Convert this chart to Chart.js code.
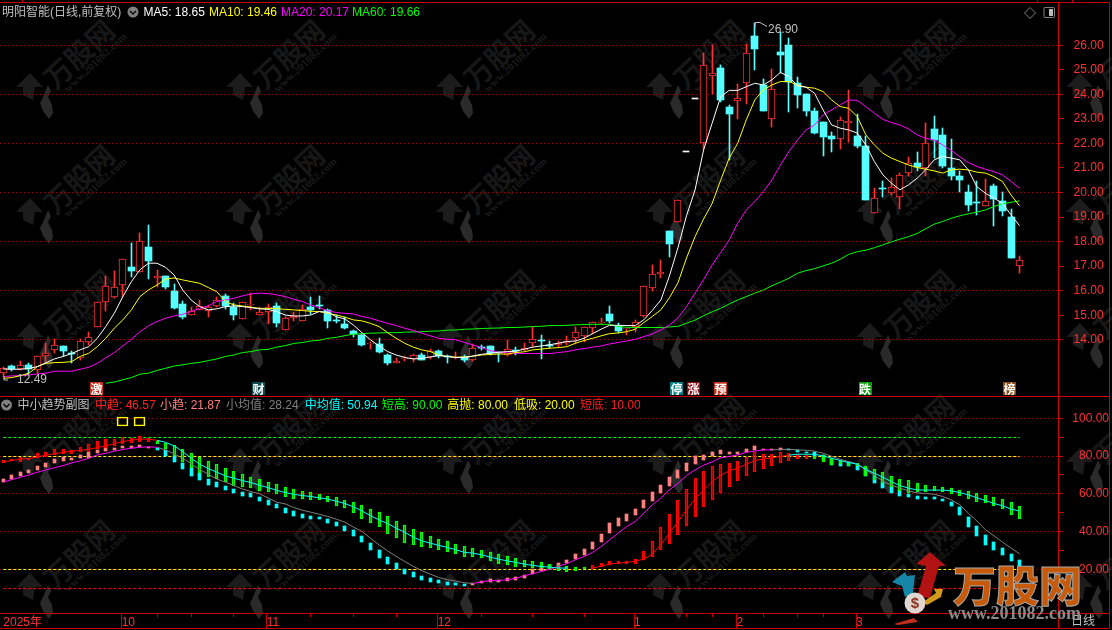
<!DOCTYPE html>
<html lang="zh"><head><meta charset="utf-8"><title>明阳智能</title>
<script src="https://cdn.jsdelivr.net/npm/chart.js@4/dist/chart.umd.min.js"></script>
<style>
html,body{margin:0;padding:0;background:#000;width:1112px;height:630px;overflow:hidden}
#stage{position:relative;width:1112px;height:630px;background:#000;font-family:"Liberation Sans","Noto Sans CJK SC",sans-serif}
canvas{position:absolute;left:0;z-index:2}
.t{position:absolute;white-space:pre;font-size:12px;line-height:14px;z-index:3}
.wm{position:absolute;white-space:pre;z-index:1;font-weight:700;transform:translate(-50%,-50%) rotate(-43deg)}
.ln{position:absolute;background:#c80000;z-index:3}
.bd{position:absolute;width:13px;height:13px;top:382px;font:700 12px/13px "Noto Sans CJK SC",sans-serif;color:#fff;text-align:center;z-index:3}
svg{position:absolute;left:0;top:0;z-index:3}
</style></head><body><div id="stage">
<canvas id="main" width="1112" height="397" style="top:0;width:1112px;height:397px"></canvas>
<canvas id="sub" width="1112" height="233" style="top:397px;width:1112px;height:233px"></canvas>
</div>
<script>
// ---------- price candles ----------
const opens=[12.64,12.92,12.80,12.96,12.75,13.32,13.57,13.75,13.45,13.25,13.93,14.54,15.53,15.73,16.22,16.97,16.78,17.78,16.53,16.60,15.99,15.46,15.03,15.20,15.18,15.39,15.77,15.33,14.86,15.43,15.03,15.12,15.37,14.39,14.90,14.78,15.33,15.39,15.20,14.81,14.65,14.35,14.20,13.82,13.83,13.37,13.05,13.22,13.22,13.37,13.28,13.53,13.34,13.25,13.28,13.19,13.70,13.74,13.49,13.36,13.59,13.59,13.85,14.00,13.78,13.78,13.87,14.09,14.16,14.46,14.69,15.05,14.58,14.43,14.52,14.95,16.10,16.67,18.44,18.78,21.64,23.80,22.01,24.76,25.06,23.49,23.72,24.45,26.38,24.38,22.98,25.73,26.01,24.45,24.02,23.33,22.89,22.31,22.16,22.85,22.31,21.90,19.18,20.19,20.00,19.81,20.79,21.19,20.99,22.59,22.35,20.99,20.68,20.02,19.62,19.43,20.27,19.65,19.01,17.00];
const highs=[12.91,12.98,13.14,13.04,13.34,13.86,14.02,13.75,13.55,14.02,14.31,15.53,16.60,16.81,17.28,17.96,18.35,18.68,16.85,16.60,16.28,15.60,15.33,15.62,15.42,15.73,15.86,15.49,15.53,15.90,15.35,15.45,15.49,14.94,15.12,15.42,15.73,15.79,15.26,15.00,14.92,14.39,14.24,13.93,14.06,13.42,13.25,13.32,13.41,13.48,13.62,13.59,13.37,13.49,13.37,13.82,13.79,13.75,13.49,14.00,13.71,13.86,14.51,14.20,13.95,13.95,14.16,14.51,14.54,14.74,14.89,15.38,14.67,14.47,14.81,16.18,17.05,17.25,18.44,19.69,21.64,23.80,25.70,26.01,25.20,23.57,24.42,26.05,26.90,24.63,25.02,26.54,26.28,24.70,24.02,23.46,22.89,22.47,23.07,24.18,23.20,22.31,20.17,20.47,20.58,20.79,21.44,21.66,22.85,23.12,22.62,22.17,20.89,20.30,20.47,20.55,20.34,20.02,19.32,17.42];
const lows=[12.49,12.73,12.77,12.61,12.64,13.11,13.45,13.32,13.04,13.18,13.79,14.54,15.19,15.69,15.73,16.57,16.78,16.47,16.17,16.06,15.27,14.86,15.03,15.20,14.94,15.35,15.24,14.82,14.86,15.22,15.03,14.66,14.52,14.39,14.77,14.78,15.05,15.24,14.46,14.67,14.43,14.13,13.75,13.62,13.47,12.98,13.05,13.15,13.11,13.18,13.21,13.25,13.07,13.21,13.11,13.15,13.59,13.40,13.11,13.34,13.37,13.53,13.72,13.22,13.67,13.70,13.80,13.83,13.89,14.24,14.63,14.69,14.27,14.20,14.32,14.92,15.99,16.53,17.39,18.78,21.64,23.80,21.76,24.02,23.70,21.33,23.00,23.61,24.99,23.30,22.65,24.86,23.26,23.45,23.12,22.39,21.49,21.67,21.78,22.07,21.80,19.70,19.18,19.83,19.90,19.33,20.68,20.88,20.68,21.42,20.99,20.51,20.04,19.25,19.09,19.43,18.64,19.05,17.35,16.73];
const closes=[12.84,12.81,12.96,12.80,13.32,13.45,13.78,13.55,13.41,13.94,14.10,15.53,16.18,16.14,17.28,16.81,18.01,17.21,16.59,16.17,15.30,14.94,15.19,15.38,15.35,15.61,15.37,15.01,15.52,15.46,15.12,15.34,14.70,14.88,14.97,15.24,15.23,15.38,14.76,14.78,14.46,14.24,13.79,13.85,13.51,13.06,13.13,13.25,13.37,13.19,13.55,13.32,13.29,13.30,13.18,13.68,13.67,13.45,13.45,13.62,13.56,13.66,14.02,13.97,13.75,13.85,13.94,14.31,14.51,14.72,14.72,14.77,14.36,14.47,14.72,16.18,16.67,16.75,17.91,19.69,21.64,23.80,25.18,24.86,23.77,23.20,23.84,25.67,25.85,23.30,24.21,25.62,24.52,23.99,23.33,22.41,22.26,22.20,22.94,22.92,21.91,19.70,19.77,20.13,20.21,20.70,21.19,21.02,22.00,22.12,21.09,20.68,20.51,19.50,19.56,19.67,19.74,19.26,17.35,17.24];
// ---------- moving averages ----------
const ma5=[12.81,12.80,12.80,12.83,12.91,13.07,13.22,13.32,13.44,13.59,13.72,14.06,14.54,15.08,15.76,16.37,16.85,17.12,17.12,16.95,16.64,16.03,15.62,15.35,15.22,15.26,15.35,15.38,15.35,15.31,15.26,15.24,15.15,15.01,14.97,14.97,15.01,15.15,15.12,14.94,14.85,14.60,14.29,14.00,13.75,13.52,13.38,13.28,13.22,13.24,13.30,13.36,13.32,13.28,13.28,13.34,13.41,13.45,13.49,13.52,13.53,13.62,13.70,13.75,13.80,13.86,13.93,13.95,14.06,14.25,14.43,14.59,14.59,14.58,14.58,14.81,15.20,15.62,16.60,17.75,19.05,20.10,21.73,22.82,23.90,24.16,24.16,24.31,24.45,24.38,24.59,24.89,24.72,24.34,24.29,24.04,23.36,22.75,22.62,22.55,22.42,21.94,21.26,20.72,20.38,20.11,20.31,20.58,20.92,21.33,21.47,21.40,21.33,20.92,20.24,19.97,19.77,19.56,19.09,18.65];
const ma10=[12.43,12.46,12.54,12.64,12.91,13.04,13.07,13.08,13.11,13.32,13.45,13.72,14.06,14.47,14.81,15.22,15.76,16.03,16.23,16.47,16.52,16.44,16.37,16.30,16.13,15.96,15.56,15.42,15.38,15.33,15.28,15.28,15.27,15.24,15.22,15.19,15.16,15.15,15.08,15.01,14.92,14.81,14.77,14.67,14.54,14.29,14.06,13.86,13.70,13.59,13.52,13.38,13.32,13.29,13.30,13.33,13.38,13.40,13.42,13.42,13.48,13.51,13.59,13.62,13.66,13.68,13.72,13.86,13.97,14.06,14.16,14.25,14.28,14.33,14.43,14.70,14.95,15.22,15.71,16.32,17.33,18.20,18.92,19.55,20.50,21.40,22.01,22.96,23.77,24.18,24.38,24.52,24.52,24.38,24.29,24.25,24.11,23.77,23.50,23.43,23.09,22.35,21.94,21.60,21.40,21.26,21.12,21.02,20.95,20.88,20.79,20.92,20.95,20.92,20.83,20.79,20.65,20.45,19.90,19.46];
const ma20=[12.50,12.53,12.54,12.57,12.61,12.64,12.72,12.72,12.72,12.80,12.88,13.04,13.27,13.48,13.75,14.02,14.33,14.57,14.74,14.88,14.97,15.04,15.15,15.28,15.38,15.56,15.62,15.69,15.79,15.87,15.90,15.88,15.83,15.76,15.65,15.56,15.42,15.31,15.18,15.11,15.08,15.05,14.95,14.88,14.77,14.67,14.58,14.47,14.38,14.27,14.16,14.06,14.02,14.00,13.89,13.79,13.68,13.56,13.49,13.47,13.45,13.44,13.44,13.44,13.44,13.48,13.52,13.59,13.64,13.70,13.75,13.83,13.89,13.95,14.02,14.13,14.24,14.40,14.60,14.90,15.35,15.90,16.45,17.05,17.55,18.07,18.75,19.29,19.63,20.04,20.51,21.12,21.67,22.14,22.55,22.75,23.16,23.37,23.57,23.77,23.75,23.50,23.23,22.98,22.85,22.75,22.59,22.35,22.21,22.14,21.94,21.71,21.46,21.22,21.06,20.95,20.85,20.72,20.45,20.17];
const ma60=[null,null,null,null,null,null,null,null,null,null,null,null,12.23,12.28,12.37,12.46,12.60,12.64,12.75,12.84,12.93,12.98,13.04,13.08,13.15,13.22,13.32,13.38,13.48,13.52,13.59,13.61,13.70,13.76,13.85,13.89,13.95,13.98,14.06,14.10,14.17,14.23,14.25,14.27,14.28,14.29,14.29,14.31,14.32,14.33,14.35,14.36,14.39,14.40,14.43,14.44,14.46,14.47,14.48,14.50,14.50,14.52,14.54,14.55,14.58,14.58,14.59,14.61,14.62,14.63,14.63,14.63,14.54,14.51,14.50,14.50,14.50,14.50,14.52,14.55,14.67,14.80,14.98,15.14,15.28,15.46,15.62,15.76,15.90,16.03,16.20,16.35,16.51,16.71,16.82,16.90,17.01,17.12,17.28,17.48,17.59,17.65,17.75,17.87,17.99,18.10,18.20,18.33,18.52,18.71,18.82,18.95,19.05,19.13,19.20,19.29,19.43,19.54,19.60,19.66];
// ---------- lower panel ----------
const midHi=[77.8,78.3,79.6,78.9,81.5,82.0,83.6,83.8,83.1,84.7,86.3,88.0,89.3,88.9,90.3,89.6,90.5,89.5,88.2,86.8,85.9,83.6,81.5,79.4,77.5,75.7,73.6,72.0,70.4,68.8,67.8,66.2,65.1,63.5,62.5,61.4,60.9,59.8,58.8,58.2,56.6,55.6,54.0,51.9,50.3,48.4,45.5,43.4,41.3,39.7,37.6,36.0,35.0,33.4,32.3,31.3,30.2,29.1,28.1,27.0,26.0,24.9,24.4,23.8,22.8,22.1,21.7,21.4,21.4,22.3,23.3,24.4,24.4,24.4,25.4,29.7,35.0,42.4,49.4,56.8,62.5,68.3,72.0,74.6,75.7,76.4,77.3,79.4,82.2,81.2,81.2,82.0,81.9,81.2,80.8,80.1,80.6,78.9,78.0,77.1,76.2,74.8,73.0,71.6,69.5,67.9,67.1,65.8,64.8,64.2,63.5,63.2,62.0,61.4,60.4,59.3,58.2,57.2,55.8,53.5];
const midLo=[76.6,77.3,77.1,78.0,78.9,79.6,80.6,81.0,81.2,82.0,82.0,83.6,84.5,85.6,86.6,87.0,87.7,87.5,86.5,83.8,79.9,77.1,73.6,70.8,69.0,68.1,66.2,64.4,63.7,63.3,61.6,61.2,59.8,58.6,57.4,57.4,57.0,56.5,55.6,53.8,52.4,50.1,46.9,44.8,42.2,38.9,36.4,34.2,33.0,31.8,31.1,30.0,29.0,27.9,26.8,26.8,25.8,24.2,23.1,22.4,21.4,21.0,20.8,20.7,19.8,19.2,18.7,19.2,20.3,20.3,21.4,22.3,22.6,23.1,23.1,24.9,26.8,30.0,33.7,38.1,43.1,47.8,52.8,57.0,60.7,63.7,66.7,69.3,71.8,73.2,75.0,76.6,77.6,78.3,78.7,78.3,77.1,75.5,75.7,74.5,74.8,69.3,67.4,65.8,63.5,61.6,60.5,60.9,61.1,61.4,61.2,60.0,59.1,57.3,55.9,54.9,53.8,52.2,48.9,46.57];
const smallHi=[67.9,70.0,71.6,72.7,74.8,76.4,78.3,79.6,79.0,80.6,82.0,83.5,84.2,84.5,85.6,85.6,85.9,85.0,84.2,83.0,79.8,76.6,73.7,70.8,67.9,66.2,64.2,62.6,61.1,60.2,58.4,56.6,54.7,52.6,50.8,49.4,48.4,47.8,46.8,45.2,43.0,40.9,37.8,34.1,30.4,26.7,23.5,20.1,18.7,16.6,15.6,14.5,13.4,12.9,12.4,12.9,14.0,15.0,14.5,15.6,16.1,17.1,20.3,21.9,22.4,23.3,25.1,28.1,30.7,34.4,38.8,44.6,47.3,49.4,52.1,56.8,61.1,64.8,69.0,72.7,76.6,79.8,80.6,82.2,83.3,82.2,82.2,83.8,85.4,83.8,83.8,84.2,83.8,83.0,82.4,82.4,80.5,78.3,77.1,76.9,75.7,73.6,69.5,66.5,63.9,62.1,60.0,58.9,58.2,58.4,57.5,55.9,52.8,47.8,43.1,38.3,34.6,31.4,28.2,25.1];
const smallLo=[66.2,67.9,69.3,70.9,72.7,74.3,76.4,77.5,78.0,79.0,79.2,81.7,82.8,83.1,84.5,84.5,84.9,84.5,83.0,79.9,77.0,73.2,69.5,67.4,64.8,63.7,62.1,60.5,58.9,58.4,56.3,54.2,52.6,50.1,48.5,47.3,46.8,46.8,44.6,43.0,40.4,37.9,34.6,30.0,26.1,23.0,20.3,17.8,16.1,14.5,13.4,12.9,11.9,11.9,11.3,11.9,12.9,13.4,13.4,14.0,14.5,15.6,17.7,19.2,20.3,21.2,23.3,25.6,27.7,30.7,34.6,39.4,43.1,45.7,48.9,52.6,56.3,60.5,64.2,68.5,72.2,75.9,78.0,79.8,81.2,81.2,81.2,82.2,83.3,83.0,83.3,83.3,83.0,82.0,81.5,79.8,78.0,75.5,75.0,74.5,72.7,69.2,65.8,63.2,60.5,59.1,58.4,57.3,57.3,57.3,56.3,53.6,48.9,42.7,37.8,33.0,30.4,27.4,24.6,21.87];
const midAvg=[77.1,77.6,78.5,78.7,79.6,80.5,81.3,82.0,82.6,83.1,83.6,84.5,85.4,86.6,87.7,88.4,89.1,88.9,88.4,87.3,85.4,82.4,78.9,75.7,73.4,71.5,69.5,68.3,67.0,66.0,64.6,63.3,61.9,60.7,59.8,59.1,58.6,57.9,57.2,56.1,54.9,53.1,51.0,48.4,46.2,44.3,41.8,39.7,37.1,35.1,33.9,32.7,31.6,30.4,29.0,28.6,27.7,26.5,25.4,24.5,23.7,22.8,22.1,21.5,21.2,20.7,20.7,null,null,20.7,21.7,22.8,23.3,23.7,24.4,25.4,28.2,33.0,39.2,45.2,51.5,57.3,62.1,66.5,69.9,72.2,73.6,75.7,77.6,78.5,79.1,79.8,80.5,81.0,81.0,81.0,80.1,78.9,77.6,76.6,75.7,73.0,70.9,68.8,66.5,64.4,63.0,62.1,62.0,62.0,62.0,61.6,60.7,59.5,57.9,56.5,54.9,53.7,51.9,50.94];
const smallAvg=[66.2,67.6,68.8,70.0,71.5,72.7,73.9,75.0,76.4,77.5,78.9,80.6,81.5,82.6,83.5,84.2,84.7,84.9,84.7,83.3,81.2,78.9,76.0,72.9,70.4,67.9,66.2,64.4,62.6,61.2,60.0,57.9,55.6,54.7,52.8,51.4,50.3,49.2,48.0,46.6,45.0,42.4,40.1,36.5,33.0,29.8,26.9,24.2,21.6,19.3,17.5,15.7,14.5,13.8,12.9,12.5,13.4,14.0,14.1,14.5,15.2,16.6,17.7,18.9,20.1,21.6,23.0,25.1,26.8,29.0,32.1,35.7,39.2,42.7,45.4,49.8,54.2,57.7,62.1,65.6,69.7,72.7,75.2,76.9,79.1,79.8,80.6,82.0,82.7,83.3,83.3,83.5,83.6,83.3,83.1,82.6,81.5,79.9,78.3,77.1,75.9,72.7,69.9,66.5,64.8,63.0,61.6,60.5,60.2,59.8,58.6,56.8,54.2,49.8,45.7,41.0,37.8,34.4,31.3,28.24];
const midUpRanges=[[0,17],[69,94]];
const midLineUpRanges=[[0,17],[69,91]];
const smallUpRanges=[[0,17],[55,91]];
const smallLineUpRanges=[[0,17],[55,89]];
const signalBoxes=[[14,96,100.7],[16,96,100.7]];
const levelShortHigh=90,levelHighSell=80,levelLowBuy=20,levelShortLow=10;
// ---------- axes ----------
const priceTicks=[26,25,24,23,22,21,20,19,18,17,16,15,14];
const panelTicks=[100,90,80,70,60,50,40,30,20];
const monthTicks=[0,14,31,51,74,86,100];
const monthLabels=["2025年","10","11","12","1","2","3"];
const minorTicks=[18,22,27,36,41,46,56,62,68,80,83,89,93,96];

const RED='#ff3232',CY='#55ffff',AX='#c80000',DOT='#a80000';
const N=opens.length;
const xMin=-0.386,xMax=123.62;
const font={family:'"Liberation Sans","Noto Sans CJK SC",sans-serif',size:12};
const inR=(r,i)=>r.some(a=>i>=a[0]&&i<=a[1]);
const idx=[...Array(N).keys()];
Chart.defaults.animation=false;

// keep bars and level lines on whole pixels, as the original terminal draws them
const snap={id:'snap',afterDatasetsUpdate(chart){
  chart.data.datasets.forEach((d,k)=>{
    const m=chart.getDatasetMeta(k);
    if(m.type==='line'&&m.data.length===2){m.data.forEach(p=>{p.y=Math.floor(p.y)+0.5;});return;}
    if(m.type!=='bar')return;
    m.data.forEach(el=>{
      const w=el.width;
      el.x=Math.round(el.x-w/2)+w/2;
      let a=Math.round(el.y),b=Math.round(el.base);
      if(a===b){b=a+1;}
      el.y=a;el.base=b;
    });
  });
}};
const noPad=a=>{a.paddingTop=0;a.paddingBottom=0;a.paddingLeft=0;a.paddingRight=0;};

function barSet(label,pts,thick,order,fill,edge,bw){
  return {type:'bar',label,data:pts,barThickness:thick,grouped:false,order,
    backgroundColor:fill,borderColor:edge,borderWidth:bw,borderSkipped:false,minBarLength:1,parsing:{xAxisKey:'x',yAxisKey:'y'}};
}
function lineSet(label,values,color,order,extra){
  return Object.assign({type:'line',label,data:values.map((v,i)=>({x:i,y:v})),borderColor:color,borderWidth:1,pointRadius:0,tension:0,fill:false,order,spanGaps:false},extra||{});
}
const colorOf=i=>closes[i]>opens[i]?'red':(closes[i]<opens[i]?'cyan':'white');
const wickOf=c=>idx.filter(i=>colorOf(i)===c).map(i=>({x:i,y:[lows[i],highs[i]]}));
const bodyOf=c=>idx.filter(i=>colorOf(i)===c).map(i=>({x:i,y:[Math.min(opens[i],closes[i]),Math.max(opens[i],closes[i])]}));

new Chart(document.getElementById('main'),{
  plugins:[snap],
  data:{datasets:[
    barSet('阳线影',wickOf('red'),1,5,RED,RED,0),
    barSet('阴线影',wickOf('cyan'),1,5,CY,CY,0),
    barSet('阳线',bodyOf('red'),7,4,'#000',RED,1),
    barSet('阴线',bodyOf('cyan'),7,4,CY,CY,0),
    barSet('一字',bodyOf('white'),6,4,'#fff','#fff',0),
    lineSet('MA60',ma60,'#00ff00',3),
    lineSet('MA20',ma20,'#ff00ff',2),
    lineSet('MA10',ma10,'#ffff00',1),
    lineSet('MA5',ma5,'#ffffff',0)
  ]},
  options:{responsive:false,maintainAspectRatio:false,devicePixelRatio:1,animation:false,
    layout:{autoPadding:false,padding:{top:3,bottom:1,left:0,right:3}},
    plugins:{legend:{display:false},tooltip:{enabled:false},title:{display:false}},
    scales:{
      x:{type:'linear',display:false,min:xMin,max:xMax,offset:false,grid:{offset:false}},
      y:{type:'linear',position:'right',min:11.71,max:27.72,offset:false,beginAtZero:false,
        afterBuildTicks:a=>{a.ticks=priceTicks.map(v=>({value:v}));},
        afterFit:a=>{a.width=50;noPad(a);},
        border:{display:false,dash:[1,3]},
        grid:{offset:false,color:c=>c.tick&&c.tick.value%2===0?DOT:'rgba(0,0,0,0)',tickColor:AX,tickLength:4,lineWidth:1,tickBorderDash:[]},
        ticks:{color:RED,font,padding:10.6,crossAlign:'near',autoSkip:false,callback:v=>Number(v).toFixed(2)}
      }
    }
  }
});

new Chart(document.getElementById('sub'),{
  plugins:[snap],
  data:{datasets:[
    lineSet('短高',[levelShortHigh,levelShortHigh],'#00ff00',9,{data:[{x:0,y:levelShortHigh},{x:N-1,y:levelShortHigh}],borderDash:[3,2]}),
    lineSet('高抛',[0,0],'#ffff00',9,{data:[{x:0,y:levelHighSell},{x:N-1,y:levelHighSell}],borderDash:[3,2]}),
    lineSet('低吸',[0,0],'#ffff00',9,{data:[{x:0,y:levelLowBuy},{x:N-1,y:levelLowBuy}],borderDash:[3,2]}),
    lineSet('短底',[0,0],'#ff0000',9,{data:[{x:0,y:levelShortLow},{x:N-1,y:levelShortLow}],borderDash:[3,2]}),
    barSet('小趋',idx.map(i=>({x:i,y:[smallLo[i],smallHi[i]]})),3,4,idx.map(i=>inR(smallUpRanges,i)?'#ff8080':'#00ffff'),'rgba(0,0,0,0)',0),
    barSet('中趋',idx.map(i=>({x:i,y:[midLo[i],midHi[i]]})),3,3,'rgba(0,0,0,0)',idx.map(i=>inR(midUpRanges,i)?'#ff0000':'#00ff00'),1),
    barSet('信号',signalBoxes.map(b=>({x:b[0],y:[b[1],b[2]]})),11,3,'rgba(0,0,0,0)','#ffff00',1),
    lineSet('小均值',smallAvg,'#808080',1,{segment:{borderColor:c=>inR(smallLineUpRanges,c.p0DataIndex)?'#ff00ff':'#808080'}}),
    lineSet('中均值',midAvg,'#00ffff',0,{segment:{borderColor:c=>inR(midLineUpRanges,c.p0DataIndex)?'#ff0000':'#00ffff'}})
  ]},
  options:{responsive:false,maintainAspectRatio:false,devicePixelRatio:1,animation:false,
    layout:{autoPadding:false,padding:{top:0,bottom:0,left:0,right:3}},
    plugins:{legend:{display:false},tooltip:{enabled:false},title:{display:false}},
    scales:{
      x:{type:'linear',position:'bottom',min:xMin,max:xMax,weight:1,offset:false,
        afterBuildTicks:a=>{a.ticks=monthTicks.map((v,i)=>({value:i===0?v:v-0.14}));},
        afterFit:a=>{a.height=17;noPad(a);},
        border:{display:true,color:AX,width:1},
        grid:{offset:false,drawOnChartArea:false,tickLength:16,tickColor:c=>c.index===0?'rgba(0,0,0,0)':AX},
        ticks:{color:RED,font,align:'start',padding:-14,autoSkip:false,maxRotation:0,minRotation:0,callback:(v,i)=>monthLabels[i]}
      },
      x2:{type:'linear',axis:'x',position:'bottom',min:xMin,max:xMax,weight:0,offset:false,
        afterBuildTicks:a=>{a.ticks=minorTicks.map(v=>({value:v}));},
        afterFit:a=>{a.height=0;noPad(a);},
        border:{display:false},
        grid:{offset:false,drawOnChartArea:false,tickLength:4,tickColor:AX},
        ticks:{display:false,autoSkip:false}
      },
      y:{type:'linear',position:'right',min:-3.12,max:111.32,offset:false,beginAtZero:false,
        afterBuildTicks:a=>{a.ticks=panelTicks.map(v=>({value:v}));},
        afterFit:a=>{a.width=50;noPad(a);},
        border:{display:false,dash:[1,3]},
        grid:{offset:false,color:c=>c.tick&&c.tick.value%20===0?DOT:'rgba(0,0,0,0)',tickColor:AX,tickLength:4,tickBorderDash:[]},
        ticks:{color:RED,font,padding:3.4,crossAlign:'far',autoSkip:false,callback:v=>v%20===0?Number(v).toFixed(2):''}
      }
    }
  }
});

// ---------- page furniture ----------
const stage=document.getElementById('stage');
function addText(x,yc,s,color,extra){
  const e=document.createElement('span');e.className='t';e.textContent=s;
  e.style.left=x+'px';e.style.top=(yc-7)+'px';e.style.color=color;
  if(extra)Object.assign(e.style,extra);stage.appendChild(e);return e;
}
function rule(x,y,w,h,c){const e=document.createElement('div');e.className='ln';
  e.style.cssText+=`left:${x}px;top:${y}px;width:${w}px;height:${h}px;`+(c?`background:${c};`:'');stage.appendChild(e);}
rule(0,2,1110,1);rule(0,396,1110,1);rule(0,628,1110,1);rule(1058,2,1,627);rule(1109,2,1,627);
rule(0,613,1110,1);rule(22,0,1,2);rule(1037,0,1,2);rule(1072,0,1,2);rule(90,396,13,1,'#ff2020');

const mainLegend=[[2,'明阳智能(日线,前复权)','#c0c0c0'],[143.5,'MA5: 18.65','#ffffff'],[209,'MA10: 19.46','#ffff00'],[281,'MA20: 20.17','#ff00ff'],[352,'MA60: 19.66','#00ff00']];
mainLegend.forEach(a=>addText(a[0],11.5,a[1],a[2]));
const subLegend=[[17.5,'中小趋势副图','#c0c0c0'],[95,'中趋: 46.57','#ff2020'],[160,'小趋: 21.87','#ff8080'],[226,'小均值: 28.24','#808080'],[304.7,'中均值: 50.94','#00ffff'],[381.7,'短高: 90.00','#00ff00'],[447.3,'高抛: 80.00','#ffff00'],[514,'低吸: 20.00','#ffff00'],[580,'短底: 10.00','#ff2020']];
subLegend.forEach(a=>addText(a[0],405,a[1],a[2]));
addText(768,28.5,'26.90','#c0c0c0');
addText(17,378.5,'12.49','#c0c0c0');
addText(1071,621,'日线','#c0c0c0');

const badges=[[90,'激','#c8321e'],[252,'财','#0f4d50'],[670,'停','#0a8088'],[687,'涨','#8c1014'],[714,'预','#c8321e'],[858.5,'跌','#0b9a0b'],[1003,'榜','#8a4a14']];
badges.forEach(b=>{const e=document.createElement('div');e.className='bd';e.textContent=b[1];e.style.left=b[0]+'px';e.style.background=b[2];stage.appendChild(e);});

// repeated faint site mark behind the chart
const wmCols=[78,288,498,708,918,1128],wmRows=[53,178,303,428,553];
wmCols.forEach(cx=>wmRows.forEach(cy=>{
  const a=document.createElement('span');a.className='wm';a.textContent='万股网';
  a.style.cssText+=`left:${cx}px;top:${cy}px;font-size:28px;color:#171717;font-family:"Noto Sans CJK SC",sans-serif`;stage.appendChild(a);
  const b=document.createElement('span');b.className='wm';b.textContent='www.201082.com';
  b.style.cssText+=`left:${cx+17}px;top:${cy+9}px;font-size:11px;color:#1b1b1b;font-family:"Liberation Serif",serif`;stage.appendChild(b);
}));
let shapes='';
wmCols.forEach(cx=>wmRows.forEach(cy=>{
  const x=cx-48,y=cy+20;
  shapes+=`<path fill="#1c1c1c" d="M${x} ${y}l-14 14h7v8l10 5 2-13h8z"/><path fill="#2a2a2a" d="M${x+18} ${y+12}l3 6-3 6 4 8 1 8-4 6-6-8-3-8 3-6z"/>`;
}));
const back=document.createElementNS('http://www.w3.org/2000/svg','svg');
back.setAttribute('width','1112');back.setAttribute('height','630');back.style.zIndex='0';back.innerHTML=shapes;
stage.appendChild(back);

// small overlay marks: panel chevrons, corner icons, high/low leaders and the corner logo
const over=document.createElementNS('http://www.w3.org/2000/svg','svg');
over.setAttribute('width','1112');over.setAttribute('height','630');
over.innerHTML=`
<circle cx="133" cy="12" r="5.5" fill="#808080"/><path d="M130 11l3 3 3-3" stroke="#000" stroke-width="1.3" fill="none"/>
<circle cx="6.5" cy="405" r="5.5" fill="#808080"/><path d="M3.5 404l3 3 3-3" stroke="#000" stroke-width="1.3" fill="none"/>
<path d="M1030 7.5l5.5 5.5-5.5 5.5-5.5-5.5z" fill="none" stroke="#808080"/>
<rect x="1044" y="7.5" width="10.5" height="10" rx="1" fill="none" stroke="#808080"/><rect x="1049" y="9" width="4" height="7" fill="#bbb"/>
<path d="M755 27V22.5h5l7 4" fill="none" stroke="#c0c0c0"/>
<path d="M4 376v4h4" fill="none" stroke="#c0c0c0"/>
<path fill="#b31212" d="M930 552l16 14-7 0-9 32-13-1 9-31-10-2z"/>
<path fill="#1586a8" d="M892 582l13-10 2 4 8-1-2 18-8 4-3-11z"/>
<path fill="#d2981a" d="M943 589l-2 8-14 8-4-3 13-9-2-4z"/>
<circle cx="915" cy="603" r="10.5" fill="#e0d8d0"/><path d="M894 624l20-6 4 4-20 3z" fill="#c03020"/>
<text x="915" y="608" font-size="15" font-weight="700" text-anchor="middle" fill="#8a3020" font-family="Liberation Sans">$</text>`;
stage.appendChild(over);
addText(953,584,'万股网','#c65a08',{fontFamily:'"Noto Sans CJK SC",sans-serif',fontSize:'43px',lineHeight:'43px',top:'562px',fontWeight:'900',webkitTextStroke:'1px #a8a8a8',letterSpacing:'0px'});
addText(948,613,'www.201082.com','#8a8a8a',{fontFamily:'"Liberation Serif",serif',fontSize:'18px',lineHeight:'18px',top:'604px',fontWeight:'700'});
</script></body></html>
